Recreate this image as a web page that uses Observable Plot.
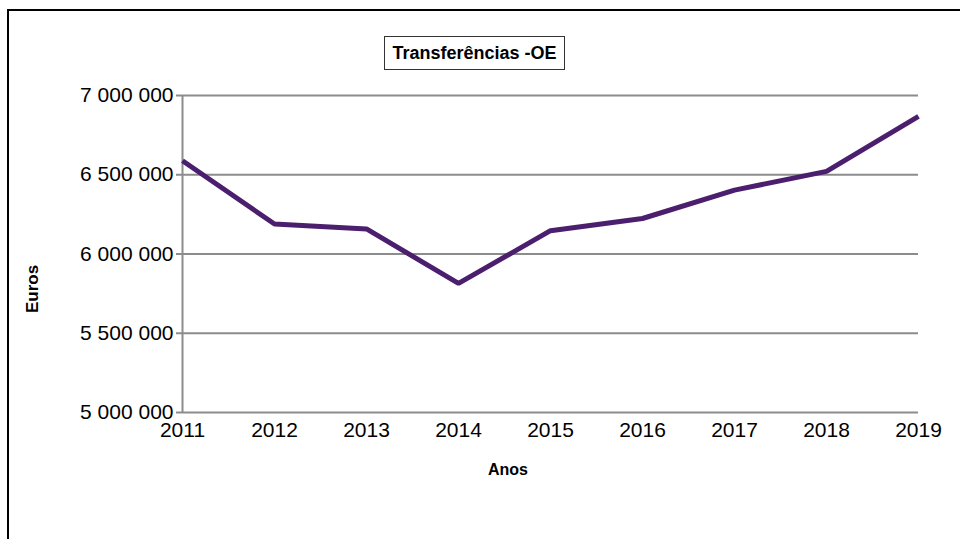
<!DOCTYPE html>
<html>
<head>
<meta charset="utf-8">
<script src="https://cdn.jsdelivr.net/npm/d3@7"></script>
<script src="https://cdn.jsdelivr.net/npm/@observablehq/plot@0.6"></script>
<style>
  html, body { margin: 0; padding: 0; background: #fff; }
  #wrap { position: relative; width: 960px; height: 539px; overflow: hidden; font-family: "Liberation Sans", Arial, sans-serif; }
  #frame { position: absolute; left: 7px; top: 9px; width: 1000px; height: 600px; border: 2px solid #000; box-sizing: border-box; }
  #title { position: absolute; left: 384px; top: 36px; width: 181px; height: 34px; border: 1px solid #333; box-sizing: border-box;
           font-weight: bold; font-size: 18px; line-height: 32px; text-align: center; color: #000; background: #fff; }
  #ylab { position: absolute; left: 33px; top: 289px; transform: translate(-50%, -50%) rotate(-90deg); font-weight: bold; font-size: 17px; color: #000; white-space: nowrap; }
  #xlab { position: absolute; left: 508px; top: 470px; transform: translate(-50%, -50%); font-weight: bold; font-size: 16px; color: #000; white-space: nowrap; }
  #chart { position: absolute; left: 0; top: 0; }
</style>
</head>
<body>
<div id="wrap">
  <div id="frame"></div>
  <div id="chart"></div>
  <div id="title"></div>
  <div id="ylab"></div>
  <div id="xlab"></div>
</div>
<script>
const titleText = "Transferências -OE";
const yLabel = "Euros";
const xLabel = "Anos";
const years = [2011, 2012, 2013, 2014, 2015, 2016, 2017, 2018, 2019];
const values = [6588000, 6189000, 6158000, 5815000, 6147000, 6224000, 6403000, 6521000, 6868000];
const yTicks = [5000000, 5500000, 6000000, 6500000, 7000000];

document.getElementById("title").textContent = titleText;
document.getElementById("ylab").textContent = yLabel;
document.getElementById("xlab").textContent = xLabel;

const data = years.map((y, i) => ({year: y, value: values[i]}));
const fmt = v => d3.format(",")(v).replace(/,/g, " ");

const chart = Plot.plot({
  width: 960,
  height: 539,
  marginLeft: 182,
  marginRight: 42,
  marginTop: 95,
  marginBottom: 127,
  style: {fontFamily: "'Liberation Sans', Arial, sans-serif", background: "transparent", color: "#000"},
  x: {type: "linear", domain: [2011, 2019]},
  y: {domain: [5000000, 7000000]},
  marks: [
    Plot.gridY(yTicks, {stroke: "#8c8c8c", strokeOpacity: 1, strokeWidth: 2}),
    Plot.ruleX([2011], {stroke: "#8c8c8c", strokeWidth: 2}),
    Plot.axisY(yTicks, {tickFormat: fmt, fontSize: 21, tickSize: 6, tickPadding: 3, stroke: "#8c8c8c", strokeWidth: 2, label: null, fill: "#000"}),
    Plot.axisX(years, {tickFormat: d => String(d), fontSize: 21, tickSize: 0, tickPadding: 10, label: null, fill: "#000"}),
    Plot.line(data, {x: "year", y: "value", stroke: "#4b1f6e", strokeWidth: 5, strokeLinejoin: "miter", strokeLinecap: "butt"})
  ]
});
document.getElementById("chart").appendChild(chart);
</script>
</body>
</html>
